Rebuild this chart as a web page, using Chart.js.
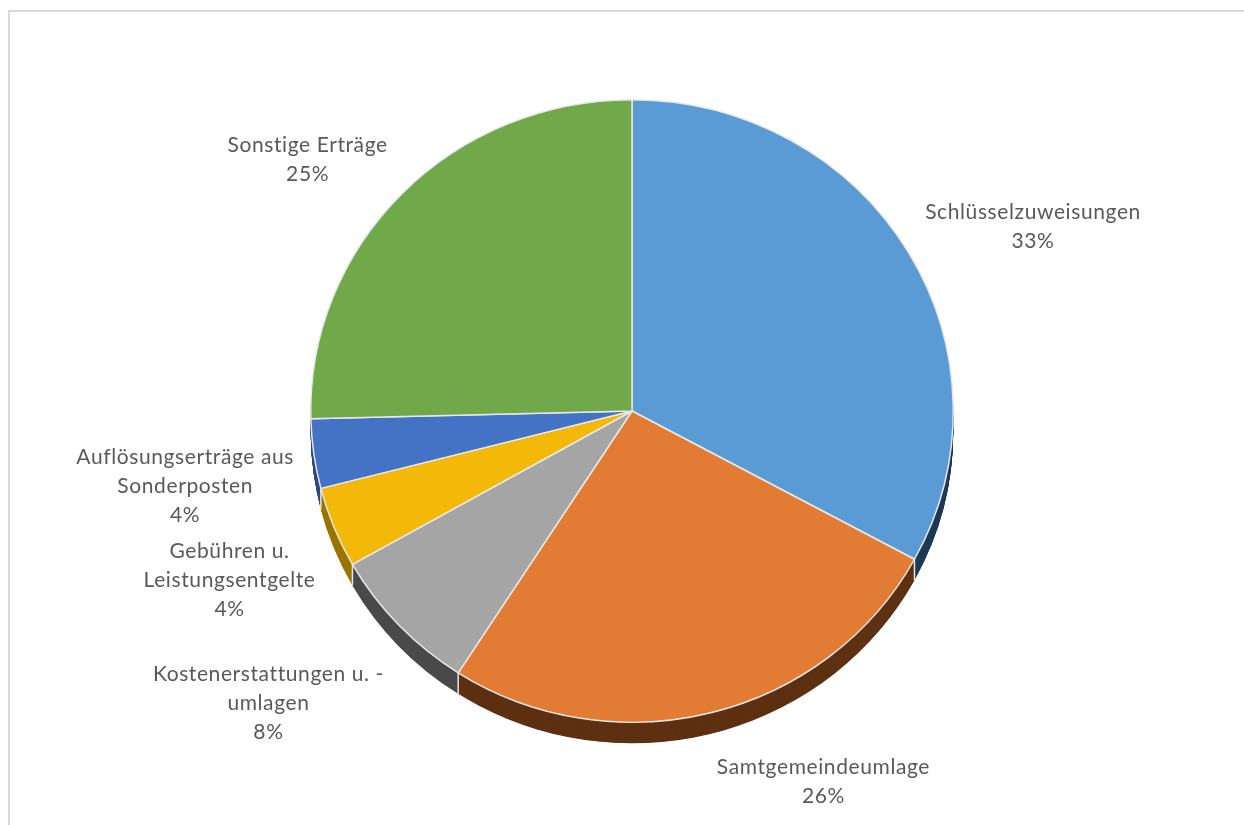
<!DOCTYPE html>
<html>
<head>
<meta charset="utf-8">
<script src="https://cdn.jsdelivr.net/npm/chart.js@4/dist/chart.umd.min.js"></script>
<style>
  html, body { margin: 0; padding: 0; background: #fff; overflow: hidden; }
  #frame { position: absolute; left: 8px; top: 10px; width: 1400px; height: 1000px; border: 2px solid #D9D9D9; }
  #pie { position: absolute; left: 0; top: 0; }
</style>
</head>
<body>
<div id="frame"></div>
<canvas id="pie" width="1244" height="825"></canvas>
<script>
// Chart data ----------------------------------------------------------------------------
const categories = [
    ['Schlüsselzuweisungen'],
    ['Samtgemeindeumlage'],
    ['Kostenerstattungen u. -', 'umlagen'],
    ['Gebühren u.', 'Leistungsentgelte'],
    ['Auflösungserträge aus', 'Sonderposten'],
    ['Sonstige Erträge']
];
const shares = [32.9, 26.2, 7.7, 4.2, 3.6, 25.4];
const topColors = ['#5B9BD5', '#E27C35', '#A5A5A5', '#F4B908', '#4472C4', '#70A84A'];
const sideColors = ['#1E3A56', '#5E3113', '#4A4A4A', '#9B7400', '#2B4A80', '#3F6128'];

const SQUASH = 0.969;   // slight tilt, pie is a bit flatter than wide
const DEPTH = 21;       // height of the 3d side in px
const LABEL_FONT = '21px Lato';
const LINE_H = 29;

// 3d side + tilt ------------------------------------------------------------------------
const tiltPie = {
    id: 'tiltPie',
    beforeDatasetsDraw(chart) {
        const ctx = chart.ctx;
        const arcs = chart.getDatasetMeta(0).data;
        const cx = arcs[0].x, cy = arcs[0].y;
        ctx.save();
        ctx.translate(cx, cy);
        ctx.scale(1, SQUASH);
        ctx.translate(-cx, -cy);
        const off = DEPTH / SQUASH;
        for (let d = off; d > 0; d -= 0.5) {
            arcs.forEach((a, i) => {
                ctx.beginPath();
                ctx.moveTo(a.x, a.y + d);
                ctx.arc(a.x, a.y + d, a.outerRadius, a.startAngle, a.endAngle);
                ctx.closePath();
                ctx.fillStyle = sideColors[i];
                ctx.fill();
            });
        }
        // light seams on the side where slices meet
        ctx.strokeStyle = '#E6E6E6';
        ctx.lineWidth = 1.5;
        arcs.forEach(a => {
            if (Math.sin(a.startAngle) > 0.05) {
                const ex = a.x + a.outerRadius * Math.cos(a.startAngle);
                const ey = a.y + a.outerRadius * Math.sin(a.startAngle);
                ctx.beginPath();
                ctx.moveTo(ex, ey);
                ctx.lineTo(ex, ey + off);
                ctx.stroke();
            }
        });
    },
    afterDatasetsDraw(chart) {
        chart.ctx.restore();
    }
};

// Outside labels, Excel style -------------------------------------------------------------
const outsideLabels = {
    id: 'outsideLabels',
    afterDraw(chart) {
        const ctx = chart.ctx;
        const arcs = chart.getDatasetMeta(0).data;
        const total = shares.reduce((a, b) => a + b, 0);
        ctx.save();
        ctx.font = LABEL_FONT;
        ctx.letterSpacing = '0.6px';
        ctx.fillStyle = '#595959';
        ctx.textAlign = 'center';
        ctx.textBaseline = 'middle';
        arcs.forEach((a, i) => {
            const lines = categories[i].concat([Math.round(shares[i] / total * 100) + '%']);
            const w = Math.max(...lines.map(l => ctx.measureText(l).width));
            const h = lines.length * LINE_H;
            const mid = (a.startAngle + a.endAngle) / 2;
            const dx = Math.cos(mid), dy = Math.sin(mid);
            const px = a.x + (a.outerRadius + 20) * dx;
            const py = a.y + (a.outerRadius * SQUASH + 20) * dy + (dy > 0 ? DEPTH : 0);
            const bx = px + w / 2 * Math.sign(dx);
            const by = py + h / 2 * Math.max(-1, Math.min(1, (dy > 0 ? 1.5 : 1) * dy));
            lines.forEach((l, k) => {
                ctx.fillText(l, bx, by - h / 2 + LINE_H * (k + 0.5));
            });
        });
        ctx.restore();
    }
};

const pieChart = new Chart(document.getElementById('pie'), {
    type: 'pie',
    data: {
        labels: categories,
        datasets: [{
            data: shares,
            backgroundColor: topColors,
            borderColor: '#E8E8E8',
            borderWidth: 1.5,
            hoverOffset: 0,
            clip: false
        }]
    },
    options: {
        responsive: false,
        animation: false,
        layout: { padding: { left: 20, right: 0, top: 89, bottom: 92 } },
        plugins: {
            legend: { display: false },
            tooltip: { enabled: false }
        }
    },
    plugins: [tiltPie, outsideLabels]
});
</script>
</body>
</html>
